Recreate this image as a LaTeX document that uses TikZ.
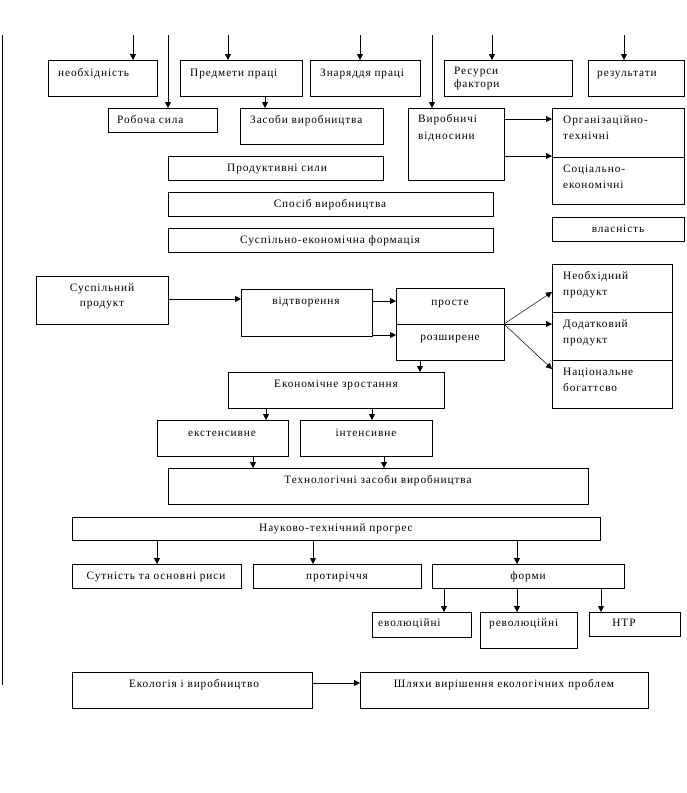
\documentclass[tikz,border=0pt]{standalone}
\usepackage{fontspec}
\setmainfont{Liberation Serif}[LetterSpace=8]
\usetikzlibrary{arrows.meta}
\tikzset{
  box/.style={draw, line width=0.8pt, inner sep=0pt, outer sep=0pt},
  arr/.style={-{Triangle[length=6pt,width=6pt]}, line width=0.8pt},
  plain/.style={line width=0.8pt},
  txt/.style={inner sep=0pt, font=\fontsize{11.3}{13}\selectfont},
}
\newcommand\bx[5]{\node[box, minimum width={(#4-#2)*1pt}, minimum height={(#5-#3)*1pt}] (#1) at ({(#2+#4)/2},{(#3+#5)/2}) {};}
\begin{document}
\begin{tikzpicture}[x=1pt,y=-1pt]
\useasboundingbox (0,0) rectangle (686,793);
% left rule
\coordinate (L1) at (2,35);
\coordinate (L2) at (2,685);
\draw[plain] (L1) -- (L2);
% ---------- boxes ----------
\bx{nb}{48}{60}{157}{96}
\bx{pp}{180}{60}{302}{96}
\bx{zp}{310}{60}{420}{96}
\bx{rf}{444}{60}{572}{96}
\bx{rez}{588}{60}{684}{96}
\bx{rs}{108}{108}{217}{132}
\bx{zv}{240}{108}{383}{144}
\bx{vv}{408}{108}{504}{180}
\bx{ot}{552}{108}{684}{157}
\bx{se}{552}{157}{684}{204}
\bx{vl}{552}{217}{684}{241}
\bx{ps}{168}{156}{383}{180}
\bx{sv}{168}{192}{493}{216}
\bx{sef}{168}{228}{493}{252}
\bx{sp}{36}{276}{168}{324}
\bx{vt}{241}{289}{372}{336}
\bx{pr}{396}{288}{504}{324}
\bx{rz}{396}{324}{504}{360}
\bx{ndp}{552}{264}{672}{312}
\bx{dp}{552}{312}{672}{360}
\bx{nbg}{552}{360}{672}{408}
\bx{ez}{228}{372}{444}{408}
\bx{ek}{157}{420}{288}{456}
\bx{in}{300}{420}{432}{456}
\bx{tz}{168}{468}{588}{504}
\bx{ntp}{72}{517}{600}{540}
\bx{sr}{72}{564}{241}{588}
\bx{pt}{253}{564}{421}{588}
\bx{fm}{432}{564}{624}{588}
\bx{ev}{372}{612}{471}{637}
\bx{rv}{480}{612}{577}{648}
\bx{ntr}{589}{612}{680}{636}
\bx{ekv}{72}{672}{312}{708}
\bx{shl}{360}{672}{648}{708}
% ---------- texts ----------
\node[txt, anchor=mid west] (t1) at (58,74) {необхідність};
\node[txt, anchor=mid west] (t2) at (190,74) {Предмети праці};
\node[txt, anchor=mid west] (t3) at (320,74) {Знаряддя праці};
\node[txt, anchor=mid west] (t4a) at (454,72) {Ресурси};
\node[txt, anchor=mid west] (t4b) at (454,85) {фактори};
\node[txt, anchor=mid west] (t5) at (597,74) {результати};
\node[txt, anchor=mid west] (t6) at (117,121) {Робоча сила};
\node[txt, anchor=mid west] (t7) at (250,121) {Засоби виробництва};
\node[txt, anchor=mid west] (t8a) at (418,120) {Виробничі};
\node[txt, anchor=mid west] (t8b) at (418,137) {відносини};
\node[txt, anchor=mid west] (t9a) at (563,121) {Організаційно-};
\node[txt, anchor=mid west] (t9b) at (563,137) {технічні};
\node[txt, anchor=mid west] (t10a) at (563,170) {Соціально-};
\node[txt, anchor=mid west] (t10b) at (563,186) {економічні};
\node[txt, anchor=mid] (t11) at (618,230) {власність};
\node[txt, anchor=mid] (t12) at (277,169) {Продуктивні сили};
\node[txt, anchor=mid] (t13) at (330,205) {Спосіб виробництва};
\node[txt, anchor=mid] (t14) at (330,241) {Суспільно-економічна формація};
\node[txt, anchor=mid] (t15a) at (102,289) {Суспільний};
\node[txt, anchor=mid] (t15b) at (102,304) {продукт};
\node[txt, anchor=mid] (t16) at (306,302) {відтворення};
\node[txt, anchor=mid] (t17) at (450,303) {просте};
\node[txt, anchor=mid] (t18) at (450,338) {розширене};
\node[txt, anchor=mid west] (t19a) at (563,277) {Необхідний};
\node[txt, anchor=mid west] (t19b) at (563,293) {продукт};
\node[txt, anchor=mid west] (t20a) at (563,325) {Додатковий};
\node[txt, anchor=mid west] (t20b) at (563,341) {продукт};
\node[txt, anchor=mid west] (t21a) at (563,373) {Національне};
\node[txt, anchor=mid west] (t21b) at (563,389) {богаттсво};
\node[txt, anchor=mid] (t22) at (336,385) {Економічне зростання};
\node[txt, anchor=mid] (t23) at (222,434) {екстенсивне};
\node[txt, anchor=mid] (t24) at (366,434) {інтенсивне};
\node[txt, anchor=mid] (t25) at (378,481) {Технологічні засоби виробництва};
\node[txt, anchor=mid] (t26) at (336,529) {Науково-технічний прогрес};
\node[txt, anchor=mid] (t27) at (156,577) {Сутність та основні риси};
\node[txt, anchor=mid] (t28) at (337,577) {протиріччя};
\node[txt, anchor=mid] (t29) at (528,577) {форми};
\node[txt, anchor=mid west] (t30) at (378,624) {еволюційні};
\node[txt, anchor=mid west] (t31) at (489,624) {революційні};
\node[txt, anchor=mid] (t32) at (624,624) {НТР};
\node[txt, anchor=mid] (t33) at (194,685) {Екологія і виробництво};
\node[txt, anchor=mid] (t34) at (504,685) {Шляхи вирішення екологічних проблем};
% ---------- connector coordinates ----------
\coordinate (a1) at (133,35);
\coordinate (a2) at (168,35);
\coordinate (a3) at (228,35);
\coordinate (a4) at (360,35);
\coordinate (a5) at (432,35);
\coordinate (a6) at (492,35);
\coordinate (a7) at (624,35);
\coordinate (c265) at (265,0);
\coordinate (r119) at (0,119);
\coordinate (r156) at (0,156);
\coordinate (r299) at (0,299);
\coordinate (r301) at (0,301);
\coordinate (r336) at (0,335);
\coordinate (r292) at (0,292);
\coordinate (r324) at (0,324);
\coordinate (r369) at (0,369);
\coordinate (c420) at (420,0);
\coordinate (c266) at (266,0);
\coordinate (c372) at (372,0);
\coordinate (c253) at (253,0);
\coordinate (c384) at (384,0);
\coordinate (c157) at (157,0);
\coordinate (c313) at (313,0);
\coordinate (c517) at (517,0);
\coordinate (c444) at (444,0);
\coordinate (c601) at (601,0);
\coordinate (r683) at (0,683);
% ---------- connectors ----------
\draw[arr] (a1) -- (a1 |- nb.north);
\draw[arr] (a2) -- (a2 |- rs.north);
\draw[arr] (a3) -- (a3 |- pp.north);
\draw[arr] (a4) -- (a4 |- zp.north);
\draw[arr] (a5) -- (a5 |- vv.north);
\draw[arr] (a6) -- (a6 |- rf.north);
\draw[arr] (a7) -- (a7 |- rez.north);
\draw[arr] (pp.south -| c265) -- (zv.north -| c265);
\draw[arr] (vv.east |- r119) -- (ot.west |- r119);
\draw[arr] (vv.east |- r156) -- (ot.west |- r156);
\draw[arr] (sp.east |- r299) -- (vt.west |- r299);
\draw[arr] (vt.east |- r301) -- (pr.west |- r301);
\draw[arr] (vt.east |- r336) -- (rz.west |- r336);
\draw[plain] (vt.east |- r301) -- (vt.east |- r336);
\draw[arr, line width=0.5pt] (pr.south east) -- (ndp.west |- r292);
\draw[arr] (pr.south east) -- (dp.west |- r324);
\draw[arr, line width=0.5pt] (pr.south east) -- (nbg.west |- r369);
\draw[arr] (rz.south -| c420) -- (ez.north -| c420);
\draw[arr] (ez.south -| c266) -- (ek.north -| c266);
\draw[arr] (ez.south -| c372) -- (in.north -| c372);
\draw[arr] (ek.south -| c253) -- (tz.north -| c253);
\draw[arr] (in.south -| c384) -- (tz.north -| c384);
\draw[arr] (ntp.south -| c157) -- (sr.north -| c157);
\draw[arr] (ntp.south -| c313) -- (pt.north -| c313);
\draw[arr] (ntp.south -| c517) -- (fm.north -| c517);
\draw[arr] (fm.south -| c444) -- (ev.north -| c444);
\draw[arr] (fm.south -| c517) -- (rv.north -| c517);
\draw[arr] (fm.south -| c601) -- (ntr.north -| c601);
\draw[arr] (ekv.east |- r683) -- (shl.west |- r683);
\end{tikzpicture}
\end{document}
